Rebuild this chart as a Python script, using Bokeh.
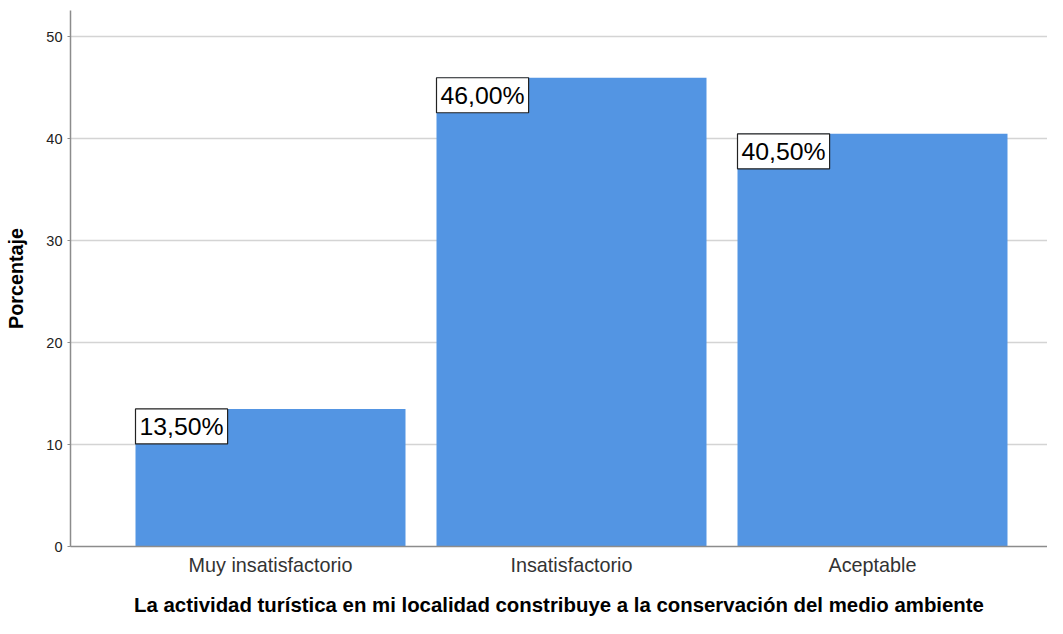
from bokeh.plotting import figure
from bokeh.models import Range1d, FixedTicker, Label
from bokeh.embed import file_html
from bokeh.resources import INLINE

categories = ["Muy insatisfactorio", "Insatisfactorio", "Aceptable"]
percentages = [13.5, 46.0, 40.5]
y_ticks = [0, 10, 20, 30, 40, 50]
x_title = "La actividad turística en mi localidad constribuye a la conservación del medio ambiente"
y_title = "Porcentaje"

xs = list(range(1, len(categories) + 1))
bar_w = 0.897

W, H = 1047, 618
left, top, bottom = 70, 10, 66
frame_w = W - left
px_per_cat = 301.0
x_start = 1 - (270 - left) / px_per_cat
x_end = x_start + frame_w / px_per_cat

p = figure(width=W, height=H, output_backend="svg", toolbar_location=None,
           x_range=Range1d(x_start, x_end), y_range=Range1d(0, 52.6),
           min_border_left=left, min_border_right=0, min_border_top=top,
           min_border_bottom=bottom)
p.outline_line_color = None
p.background_fill_color = "white"
p.border_fill_color = "white"

p.vbar(x=xs, top=percentages, width=bar_w, bottom=0, color="#5395e3", line_color=None)

# axes
p.xaxis.ticker = FixedTicker(ticks=xs)
p.xaxis.major_label_overrides = {x: c for x, c in zip(xs, categories)}
p.xaxis.major_tick_line_color = None
p.xaxis.minor_tick_line_color = None
p.xaxis.major_label_text_font = "Liberation Sans"
p.xaxis.major_label_text_font_size = "19.8px"
p.xaxis.major_label_text_color = "#333333"
p.xaxis.major_label_standoff = 1
p.xaxis.axis_line_color = "#8c8c8c"
p.xaxis.axis_line_width = 1.5
p.xaxis.axis_label = x_title
p.xaxis.axis_label_text_font = "Liberation Sans"
p.xaxis.axis_label_text_font_style = "bold"
p.xaxis.axis_label_text_font_size = "20.4px"
p.xaxis.axis_label_text_color = "#000000"
p.xaxis.axis_label_standoff = 15

p.yaxis.ticker = FixedTicker(ticks=y_ticks)
p.yaxis.minor_tick_line_color = None
p.yaxis.major_tick_out = 3
p.yaxis.major_tick_in = 0
p.yaxis.major_tick_line_color = "#8c8c8c"
p.yaxis.major_label_text_font = "Liberation Sans"
p.yaxis.major_label_text_font_size = "14.5px"
p.yaxis.major_label_text_color = "#222222"
p.yaxis.major_label_standoff = 5
p.yaxis.axis_line_color = "#8c8c8c"
p.yaxis.axis_line_width = 1.5
p.yaxis.axis_label = y_title
p.yaxis.axis_label_text_font = "Liberation Sans"
p.yaxis.axis_label_text_font_style = "bold"
p.yaxis.axis_label_text_font_size = "19.8px"
p.yaxis.axis_label_text_color = "#000000"
p.yaxis.axis_label_standoff = 16

p.xgrid.grid_line_color = None
p.ygrid.ticker = FixedTicker(ticks=y_ticks)
p.ygrid.grid_line_color = "#d4d4d4"
p.ygrid.grid_line_width = 1.5

for x, v in zip(xs, percentages):
    txt = f"{v:.2f}".replace(".", ",") + "%"
    p.add_layout(Label(x=x - bar_w / 2, y=v, text=txt,
                       text_font="Liberation Sans", text_font_size="24.8px",
                       text_color="black", text_align="left", text_baseline="top",
                       padding=4,
                       background_fill_color="white", background_fill_alpha=1.0,
                       border_line_color="#222222", border_line_width=1.2))

open("out.html", "w").write(file_html(p, INLINE))
